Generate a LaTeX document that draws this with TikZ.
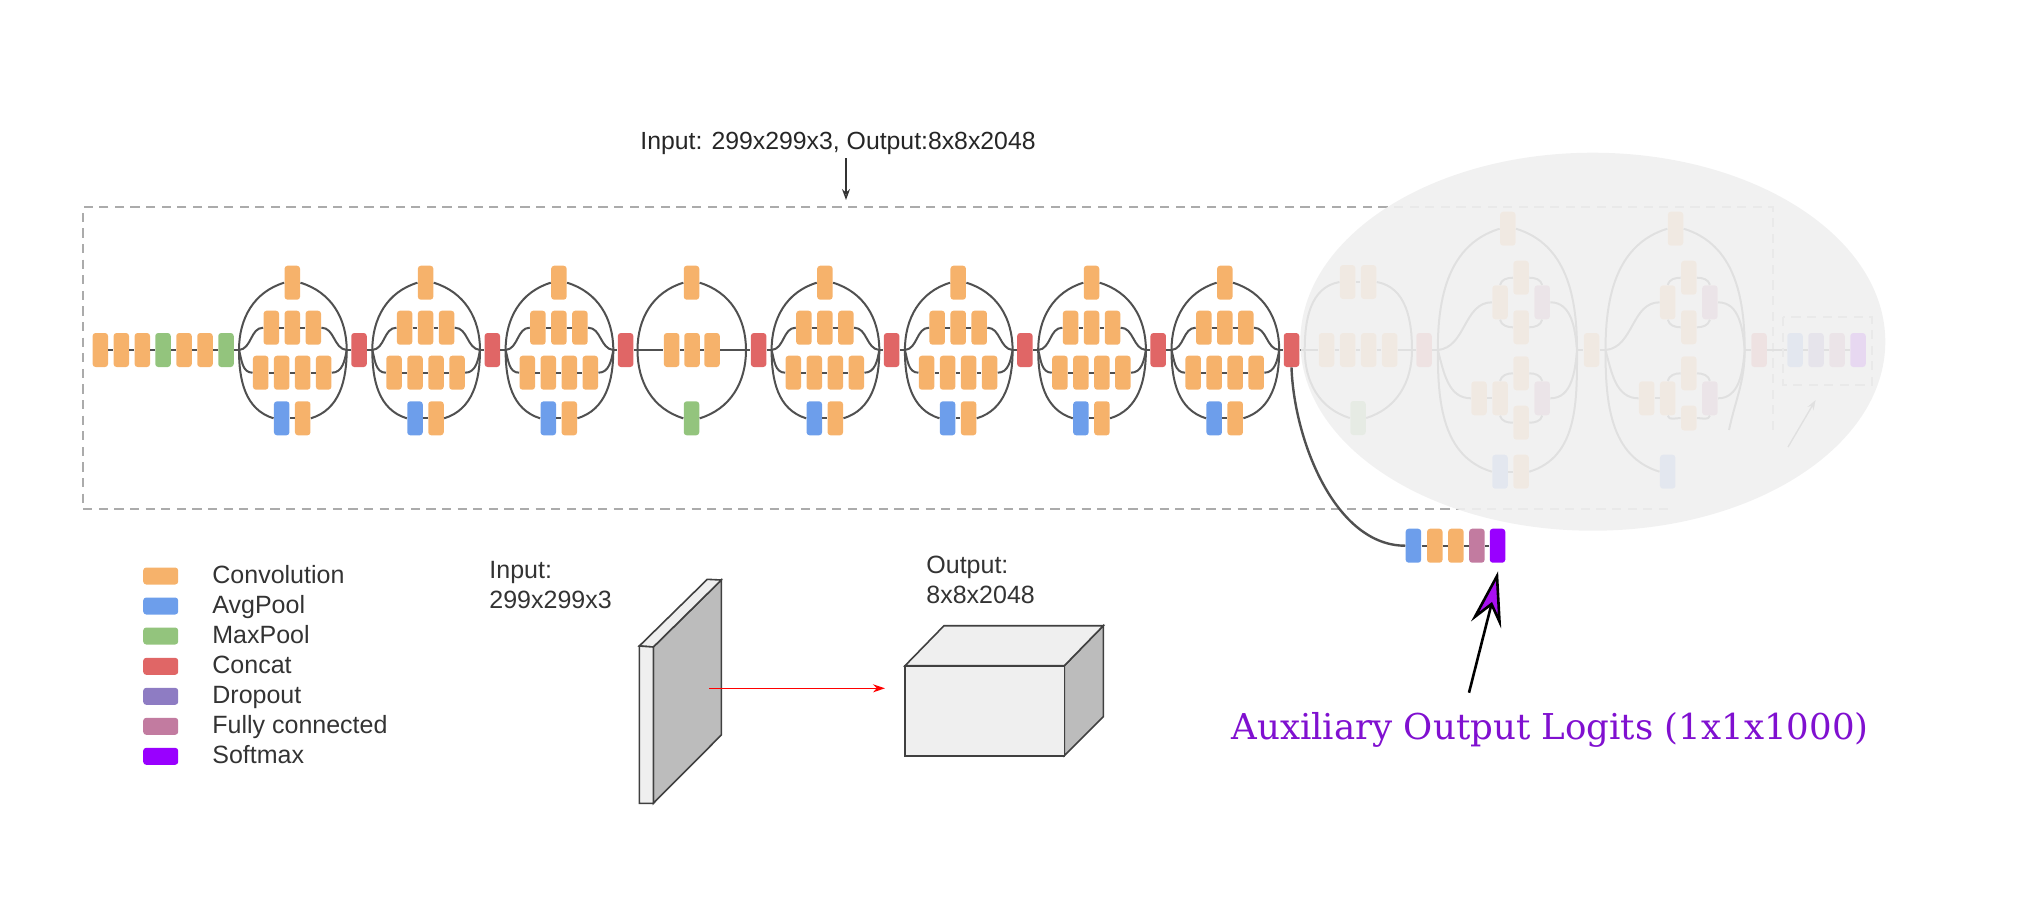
\documentclass[tikz,border=0pt]{standalone}
\usepackage{fontspec}
\setmainfont{Liberation Sans}
\newfontfamily\serifaux{DejaVu Serif}
\usetikzlibrary{arrows.meta}
\definecolor{cconv}{HTML}{F6B26B}
\definecolor{cavg}{HTML}{6D9EEB}
\definecolor{cmax}{HTML}{93C47D}
\definecolor{ccat}{HTML}{E06666}
\definecolor{cdrop}{HTML}{8E7CC3}
\definecolor{cfc}{HTML}{C27BA0}
\definecolor{csoft}{HTML}{9900FF}
\definecolor{cline}{HTML}{505050}
\definecolor{cdash}{HTML}{ABABAB}
\definecolor{cveil}{HTML}{F0F0F0}
\definecolor{cface}{HTML}{BCBCBC}
\definecolor{clight}{HTML}{EFEFEF}
\definecolor{caux}{HTML}{8010D0}
\definecolor{ctip}{HTML}{A80FF0}
\tikzset{
  blk/.style={rectangle,rounded corners=1.5pt,inner sep=0pt,minimum width=7.75pt,minimum height=17pt},
  conv/.style={blk,fill=cconv},
  avg/.style={blk,fill=cavg},
  maxp/.style={blk,fill=cmax},
  cat/.style={blk,fill=ccat},
  drop/.style={blk,fill=cdrop},
  fc/.style={blk,fill=cfc},
  soft/.style={blk,fill=csoft},
  swatch/.style={rectangle,rounded corners=1.5pt,inner sep=0pt,minimum width=17.5pt,minimum height=8.5pt},
  wire/.style={draw=cline,line width=1pt},
  chain/.style={draw=cline,line width=0.9pt},
  box/.style={draw=cdash,line width=1pt,dash pattern=on 4.6pt off 3.2pt},
  lab/.style={inner sep=0pt,font=\fontsize{12.5}{15}\selectfont,text=black!80,anchor=base west},
  labm/.style={inner sep=0pt,font=\fontsize{12.5}{15}\selectfont,text=black!80,anchor=west,align=left},
  edgeb/.style={draw=black!75,line width=0.8pt}
}
% Inception A style module: #1 id, #2 centre x
\newcommand{\incA}[2]{
  \node[conv] (#1t) at (#2,282.7) {};
  \node[conv] (#1a) at ({#2-21},327.7) {};
  \node[conv] (#1b) at (#2,327.7) {};
  \node[conv] (#1c) at ({#2+21},327.7) {};
  \node[conv] (#1d) at ({#2-31.6},372.7) {};
  \node[conv] (#1e) at ({#2-10.6},372.7) {};
  \node[conv] (#1f) at ({#2+10.4},372.7) {};
  \node[conv] (#1g) at ({#2+31.4},372.7) {};
  \node[avg] (#1h) at ({#2-10.6},418.3) {};
  \node[conv] (#1i) at ({#2+10.4},418.3) {};
  \coordinate (#1L) at ({#2-53.3},350);
  \coordinate (#1R) at ({#2+54.4},350);
  \draw[wire] (#1L) to[out=90,in=197] (#1t.west);
  \draw[wire] (#1t.east) to[out=-17,in=90] (#1R);
  \draw[wire] (#1L) to[out=5,in=180] (#1a.west);
  \draw[wire] (#1c.east) to[out=0,in=175] (#1R);
  \draw[wire] (#1L) to[out=-75,in=180] (#1d.west);
  \draw[wire] (#1g.east) to[out=0,in=-100] (#1R);
  \draw[wire] (#1L) to[out=-90,in=163] (#1h.west);
  \draw[wire] (#1i.east) to[out=17,in=-90] (#1R);
  \draw[chain] (#1a)--(#1b); \draw[chain] (#1b)--(#1c);
  \draw[chain] (#1d)--(#1e); \draw[chain] (#1e)--(#1f); \draw[chain] (#1f)--(#1g);
  \draw[chain] (#1h)--(#1i);
}
% Inception C style inner part: #1 id, #2 centre x
\newcommand{\incC}[2]{
  \node[conv] (#1t) at (#2,228.7) {};
  \node[conv] (#1ub) at ({#2-7.8},302.3) {};
  \node[conv] (#1ua) at ({#2+13.3},277.7) {};
  \node[conv] (#1uc) at ({#2+13.3},327.3) {};
  \node[fc] (#1up) at ({#2+34.4},302.3) {};
  \node[conv] (#1la) at ({#2-28.8},398.3) {};
  \node[conv] (#1lb) at ({#2-7.8},398.3) {};
  \node[conv] (#1lt) at ({#2+13.3},373.3) {};
  \node[fc] (#1lp) at ({#2+34.4},398.3) {};
  \node[avg] (#1h) at ({#2-7.8},471.7) {};
  \coordinate (#1L) at ({#2-70},350);
  \coordinate (#1R) at ({#2+69.2},350);
  \draw[wire] (#1L) to[out=90,in=197] (#1t.west);
  \draw[wire] (#1L) to[out=5,in=180] (#1ub.west);
  \draw[wire] (#1up.east) to[out=0,in=95] (#1R);
  \draw[wire] (#1L) to[out=-75,in=180] (#1la.west);
  \draw[wire] (#1lp.east) to[out=0,in=-95] (#1R);
  \draw[wire] (#1L) to[out=-90,in=163] (#1h.west);
  \draw[chain] (#1la)--(#1lb);
  \draw[wire] (#1ub.north) to[out=75,in=180] (#1ua.west);
  \draw[wire] (#1ua.east) to[out=0,in=105] (#1up.north);
  \draw[wire] (#1ub.south) to[out=-75,in=180] (#1uc.west);
  \draw[wire] (#1uc.east) to[out=0,in=-105] (#1up.south);
  \draw[wire] (#1lb.north) to[out=75,in=180] (#1lt.west);
  \draw[wire] (#1lt.east) to[out=0,in=105] (#1lp.north);
}
\begin{document}
\begin{tikzpicture}[x=0.5pt,y=-0.5pt]
\useasboundingbox (0,0) rectangle (2029,918);
% title
\node[inner sep=0pt,font=\fontsize{12.4}{15}\selectfont,text=black!85] (title) at (838,143) {Input: 299x299x3, Output:8x8x2048};
\coordinate (ttail) at (846,158);
\coordinate (thead) at (846,200);
\draw[draw=black!80,line width=0.7pt,-{Stealth[open,length=5.5pt,width=4pt]}] (ttail)--(thead);
% dashed frame
\coordinate (fa) at (1773,430);
\coordinate (fb) at (1773,207);
\coordinate (fc) at (83,207);
\coordinate (fd) at (83,509);
\coordinate (fe) at (1670.5,509);
\draw[box] (fa)--(fb)--(fc)--(fd)--(fe);
% stem
\foreach \i/\x/\s in {1/100.3/conv,2/121.3/conv,3/142.3/conv,4/163/maxp,5/184/conv,6/205/conv,7/226/maxp}{
  \node[\s] (s\i) at (\x,350) {};
}
\foreach \i/\j in {1/2,2/3,3/4,4/5,5/6,6/7}{\draw[chain] (s\i)--(s\j);}
% inception A modules
\incA{ma}{292.3}
\incA{mb}{425.6}
\incA{mc}{558.9}
\node[cat] (ca) at (359,350) {};
\node[cat] (cb) at (492.3,350) {};
\node[cat] (cc) at (625.6,350) {};
% reduction
\node[conv] (rt) at (691.5,282.7) {};
\node[conv] (ra) at (671.6,350) {};
\node[conv] (rb) at (692,350) {};
\node[conv] (rc) at (712,350) {};
\node[maxp] (rg) at (691.5,418.3) {};
\coordinate (rL) at (637.5,350);
\coordinate (rR) at (746,350);
\draw[wire] (rL) to[out=90,in=197] (rt.west);
\draw[wire] (rt.east) to[out=-17,in=90] (rR);
\draw[wire] (rL) to[out=-90,in=163] (rg.west);
\draw[wire] (rg.east) to[out=17,in=-90] (rR);
\draw[chain] (rL)--(ra); \draw[chain] (ra)--(rb); \draw[chain] (rb)--(rc); \draw[chain] (rc)--(rR);
\node[cat] (cd) at (758.6,350) {};
\incA{md}{824.9}
\node[cat] (ce) at (891.6,350) {};
\incA{me}{958.2}
\node[cat] (cf) at (1024.9,350) {};
\incA{mf}{1091.5}
\node[cat] (cg) at (1158.2,350) {};
\incA{mg}{1224.8}
\node[cat] (ch) at (1291.5,350) {};
% links between modules
\draw[chain] (s7)--(maL);
\draw[chain] (maR)--(ca); \draw[chain] (ca)--(mbL);
\draw[chain] (mbR)--(cb); \draw[chain] (cb)--(mcL);
\draw[chain] (mcR)--(cc); \draw[chain] (cc)--(rL);
\draw[chain] (rR)--(cd); \draw[chain] (cd)--(mdL);
\draw[chain] (mdR)--(ce); \draw[chain] (ce)--(meL);
\draw[chain] (meR)--(cf); \draw[chain] (cf)--(mfL);
\draw[chain] (mfR)--(cg); \draw[chain] (cg)--(mgL);
\draw[chain] (mgR)--(ch);
% reduction B
\node[conv] (ntl) at (1347.6,282) {};
\node[conv] (ntr) at (1368.6,282) {};
\node[conv] (na) at (1326.5,350) {};
\node[conv] (nb) at (1347.6,350) {};
\node[conv] (nc) at (1368.6,350) {};
\node[conv] (nd) at (1389.6,350) {};
\node[maxp] (ng) at (1358,418) {};
\coordinate (nL) at (1304.7,350);
\coordinate (nR) at (1412,350);
\draw[wire] (nL) to[out=90,in=190] (ntl.west);
\draw[chain] (ntl)--(ntr);
\draw[wire] (ntr.east) to[out=-10,in=90] (nR);
\draw[wire] (nL) to[out=-90,in=163] (ng.west);
\draw[wire] (ng.east) to[out=17,in=-90] (nR);
\draw[chain] (ch)--(na); \draw[chain] (na)--(nb); \draw[chain] (nb)--(nc); \draw[chain] (nc)--(nd);
\draw[chain] (nd)--(nR);
\node[cat] (ci) at (1424,350) {};
\draw[chain] (nR)--(ci);
% inception C modules
\incC{pa}{1507.8}
\node[conv] (palc) at (1521.1,422.7) {};
\node[conv] (pao) at (1521.1,471.7) {};
\draw[wire] (pat.east) to[out=-17,in=90] (paR);
\draw[chain] (pah)--(pao);
\draw[wire] (pao.east) to[out=17,in=-90] (paR);
\draw[wire] (palb.south) to[out=-75,in=180] (palc.west);
\draw[wire] (palc.east) to[out=0,in=-105] (palp.south);
\draw[chain] (ci)--(paL);
\node[conv] (cj) at (1591.5,350) {};
\draw[chain] (paR)--(cj);
\incC{pb}{1675.5}
\node[conv,minimum height=12.5pt] (pblc) at (1688.8,418) {};
\coordinate (pbend) at (1729,430);
\draw[wire] (pbt.east) to[out=-17,in=90] (pbR);
\draw[wire] (pbR) to[out=-90,in=78] (pbend);
\draw[wire] (pblb.south) to[out=-75,in=180] (pblc.west);
\draw[wire] (pblc.east) to[out=0,in=-105] (pblp.south);
\draw[chain] (cj)--(pbL);
\node[cat] (ck) at (1759,350) {};
\draw[chain] (pbR)--(ck);
\node[avg] (oa) at (1795,350) {};
\node[drop] (ob) at (1816,350) {};
\node[fc] (oc) at (1837,350) {};
\node[soft] (od) at (1858,350) {};
\draw[chain] (ck)--(oa); \draw[chain] (oa)--(ob); \draw[chain] (ob)--(oc); \draw[chain] (oc)--(od);
\coordinate (oba) at (1783,317);
\coordinate (obb) at (1872,385);
\draw[box] (oba) rectangle (obb);
\coordinate (ga) at (1788,447);
\coordinate (gb) at (1815.6,400);
\draw[draw=cline,line width=0.7pt,-{Stealth[open,length=5pt,width=3.5pt]}] (ga)--(gb);
% veil
\fill[cveil,fill opacity=0.9] (1592.8,341.7) ellipse [x radius=292.5, y radius=189];
% auxiliary branch
\node[avg] (xa) at (1413.4,545.7) {};
\node[conv] (xb) at (1434.8,545.7) {};
\node[conv] (xc) at (1455.9,545.7) {};
\node[fc] (xd) at (1476.9,545.7) {};
\node[soft] (xe) at (1497.5,545.7) {};
\draw[chain] (xa)--(xb); \draw[chain] (xb)--(xc); \draw[chain] (xc)--(xd); \draw[chain] (xd)--(xe);
\draw[draw=cline,line width=1.2pt] (ch.south) .. controls (1294,440) and (1335,545.7) .. (xa.west);
% auxiliary label and arrow
\node[inner sep=0pt,font=\fontsize{17.8}{22}\serifaux,text=caux] (auxl) at (1550,730) {Auxiliary Output Logits (1x1x1000)};
\coordinate (atail) at (1469,692.7);
\coordinate (atip) at (1497,576);
\coordinate (ahl) at (1475,616.7);
\coordinate (ahn) at (1491.5,604);
\coordinate (ahr) at (1499.5,621.7);
\draw[black,line width=1.3pt] (atail)--(ahn);
\filldraw[fill=ctip,draw=black,line width=1.3pt,line join=miter] (atip)--(ahl)--(ahn)--(ahr)--cycle;
% legend
\foreach \y/\s/\t in {576/cconv/Convolution,606/cavg/AvgPool,636/cmax/MaxPool,666.3/ccat/Concat,696.3/cdrop/Dropout,726.3/cfc/Fully connected,756.3/csoft/Softmax}{
  \node[swatch,fill=\s] (leg\s) at (160.7,\y) {};
  \node[lab] (txt\s) at (212,\y+7.3) {\t};
}
\node[labm] (inl) at (489,585.5) {Input:\\[0pt]299x299x3};
\node[labm] (outl) at (926,580) {Output:\\[0pt]8x8x2048};
% plate
\coordinate (p1) at (639.3,646);
\coordinate (p2) at (653.3,647);
\coordinate (p3) at (721.3,580);
\coordinate (p4) at (707.3,579.3);
\coordinate (p5) at (721.3,735);
\coordinate (p6) at (653.3,803.3);
\coordinate (p7) at (639.3,803.3);
\filldraw[fill=cface,edgeb] (p2)--(p3)--(p5)--(p6)--cycle;
\filldraw[fill=clight,edgeb] (p1)--(p4)--(p3)--(p2)--cycle;
\filldraw[fill=clight,edgeb] (p1)--(p2)--(p6)--(p7)--cycle;
% cube
\coordinate (q1) at (905,665.7);
\coordinate (q2) at (1064.3,665.7);
\coordinate (q3) at (1064.3,755.7);
\coordinate (q4) at (905,755.7);
\coordinate (q5) at (944,625.7);
\coordinate (q6) at (1103.3,625.7);
\coordinate (q7) at (1103.3,716.7);
\filldraw[fill=cface,edgeb] (q2)--(q6)--(q7)--(q3)--cycle;
\filldraw[fill=clight,edgeb] (q1)--(q5)--(q6)--(q2)--cycle;
\filldraw[fill=clight,edgeb] (q1)--(q2)--(q3)--(q4)--cycle;
\coordinate (ra1) at (709.3,688.3);
\coordinate (ra2) at (885,688.3);
\draw[red,line width=0.8pt,-{Stealth[length=6pt,width=4pt]}] (ra1)--(ra2);
\end{tikzpicture}
\end{document}
